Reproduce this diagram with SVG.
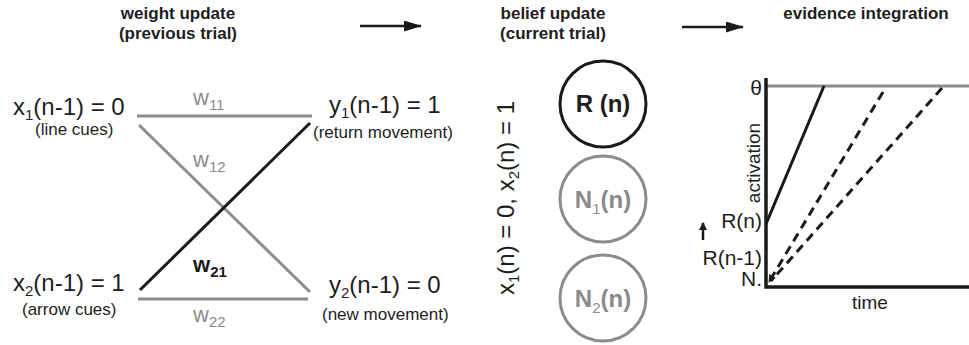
<svg xmlns="http://www.w3.org/2000/svg" width="969" height="345" viewBox="0 0 969 345">
<defs>
<style>
text{font-family:"Liberation Sans",Arial,sans-serif;fill:#1e1e1e}
.t{font-size:17px;font-weight:bold;text-anchor:middle}
.lab{font-size:24px}
.sm{font-size:17px}
.w{font-size:22px;fill:#8a8a8a}
.g{fill:#8a8a8a}
.gl{stroke:#8c8c8c;stroke-width:3;fill:none}
.bl{stroke:#1a1a1a;stroke-width:3;fill:none}
.ax{stroke:#1a1a1a;stroke-width:3.5;fill:none}
.dash{stroke:#1a1a1a;stroke-width:3;fill:none;stroke-dasharray:9 6}
.circ{fill:none;stroke-width:3}
</style>
<marker id="ah" viewBox="0 0 18 11" refX="17" refY="5.5" markerWidth="18" markerHeight="11" markerUnits="userSpaceOnUse" orient="auto" preserveAspectRatio="none">
<path d="M0,0 L18,5.5 L0,11 z" fill="#1a1a1a"/>
</marker>
<marker id="ahup" viewBox="0 0 8 8" refX="7" refY="4" markerWidth="8" markerHeight="8" markerUnits="userSpaceOnUse" orient="auto">
<path d="M0,0 L8,4 L0,8 z" fill="#1a1a1a"/>
</marker>
<marker id="ahs" viewBox="0 0 10 10" refX="9" refY="5" markerWidth="8" markerHeight="8" markerUnits="userSpaceOnUse" orient="auto">
<path d="M0,0 L10,5 L0,10 z" fill="#1a1a1a"/>
</marker>
</defs>
<rect width="969" height="345" fill="#fff"/>

<g id="titles">
<text class="t" x="178" y="19">weight update</text>
<text class="t" x="178" y="39">(previous trial)</text>
<text class="t" x="553" y="19">belief update</text>
<text class="t" x="553" y="39">(current trial)</text>
<text class="t" x="866" y="19">evidence integration</text>
</g>

<g id="connectors">
<line x1="360" y1="26" x2="421" y2="26" stroke="#1a1a1a" stroke-width="2.5" marker-end="url(#ah)"/>
<line x1="682" y1="27" x2="743" y2="27" stroke="#1a1a1a" stroke-width="2.5" marker-end="url(#ah)"/>
<line id="w11" class="gl" x1="137" y1="116" x2="312" y2="116"/>
<line id="w12" class="gl" x1="139" y1="125" x2="310" y2="292"/>
<line id="w21" class="bl" x1="140" y1="290" x2="310" y2="123"/>
<line id="w22" class="gl" x1="138" y1="299" x2="308" y2="299"/>
</g>

<g id="weight-labels">
<text class="w" x="193" y="105">w<tspan font-size="15" dy="5">11</tspan></text>
<text class="w" x="193" y="167">w<tspan font-size="15" dy="5">12</tspan></text>
<text class="w" x="193" y="272" style="fill:#1a1a1a;font-weight:bold">w<tspan font-size="15" dy="5">21</tspan></text>
<text class="w" x="193" y="322">w<tspan font-size="15" dy="5">22</tspan></text>
</g>

<g id="x1">
<text class="lab" x="13" y="115">x<tspan font-size="15" dy="5">1</tspan><tspan dy="-5">(n-1) = 0</tspan></text>
<text class="sm" x="35" y="135">(line cues)</text>
</g>
<g id="x2">
<text class="lab" x="13" y="291">x<tspan font-size="15" dy="5">2</tspan><tspan dy="-5">(n-1) = 1</tspan></text>
<text class="sm" x="22" y="315">(arrow cues)</text>
</g>
<g id="y1">
<text class="lab" x="329" y="113">y<tspan font-size="15" dy="5">1</tspan><tspan dy="-5">(n-1) = 1</tspan></text>
<text class="sm" x="313" y="138">(return movement)</text>
</g>
<g id="y2">
<text class="lab" x="329" y="293">y<tspan font-size="15" dy="5">2</tspan><tspan dy="-5">(n-1) = 0</tspan></text>
<text class="sm" x="322" y="320">(new movement)</text>
</g>

<g id="current-input">
<text class="lab" transform="translate(514,198) rotate(-90)" text-anchor="middle">x<tspan font-size="15" dy="5">1</tspan><tspan dy="-5">(n) = 0, x</tspan><tspan font-size="15" dy="5">2</tspan><tspan dy="-5">(n) = 1</tspan></text>
</g>

<g id="R">
<circle class="circ" cx="603" cy="104" r="43" stroke="#1a1a1a"/>
<text x="603" y="112" font-size="24" font-weight="bold" text-anchor="middle">R (n)</text>
</g>
<g id="N1">
<circle class="circ" cx="603" cy="199" r="43" stroke="#8c8c8c"/>
<text class="g" x="603" y="208" font-size="24" font-weight="bold" text-anchor="middle">N<tspan font-size="15" font-weight="normal" dy="6">1</tspan><tspan dy="-6">(n)</tspan></text>
</g>
<g id="N2">
<circle class="circ" cx="603" cy="298" r="43" stroke="#8c8c8c"/>
<text class="g" x="603" y="307" font-size="24" font-weight="bold" text-anchor="middle">N<tspan font-size="15" font-weight="normal" dy="6">2</tspan><tspan dy="-6">(n)</tspan></text>
</g>

<g id="plot">
<line class="gl" x1="766" y1="86" x2="969" y2="86"/>
<polyline class="ax" points="766,78 766,287 969,287"/>
<line class="bl" x1="766" y1="224" x2="824" y2="86"/>
<line class="dash" x1="883" y1="92" x2="769" y2="282" marker-end="url(#ahs)"/>
<line class="dash" x1="942" y1="88" x2="771" y2="281"/>
<text x="762" y="95" font-size="21" text-anchor="end">θ</text>
<text transform="translate(760,163) rotate(-90)" font-size="19" text-anchor="middle">activation</text>
<text x="762" y="228" font-size="21" text-anchor="end">R(n)</text>
<line x1="703" y1="240" x2="703" y2="223" stroke="#1a1a1a" stroke-width="2.5" marker-end="url(#ahup)"/>
<text x="762" y="265" font-size="21" text-anchor="end">R(n-1)</text>
<text x="762" y="286" font-size="21" text-anchor="end">N.</text>
<text x="870" y="309" font-size="19" text-anchor="middle">time</text>
</g>
</svg>
